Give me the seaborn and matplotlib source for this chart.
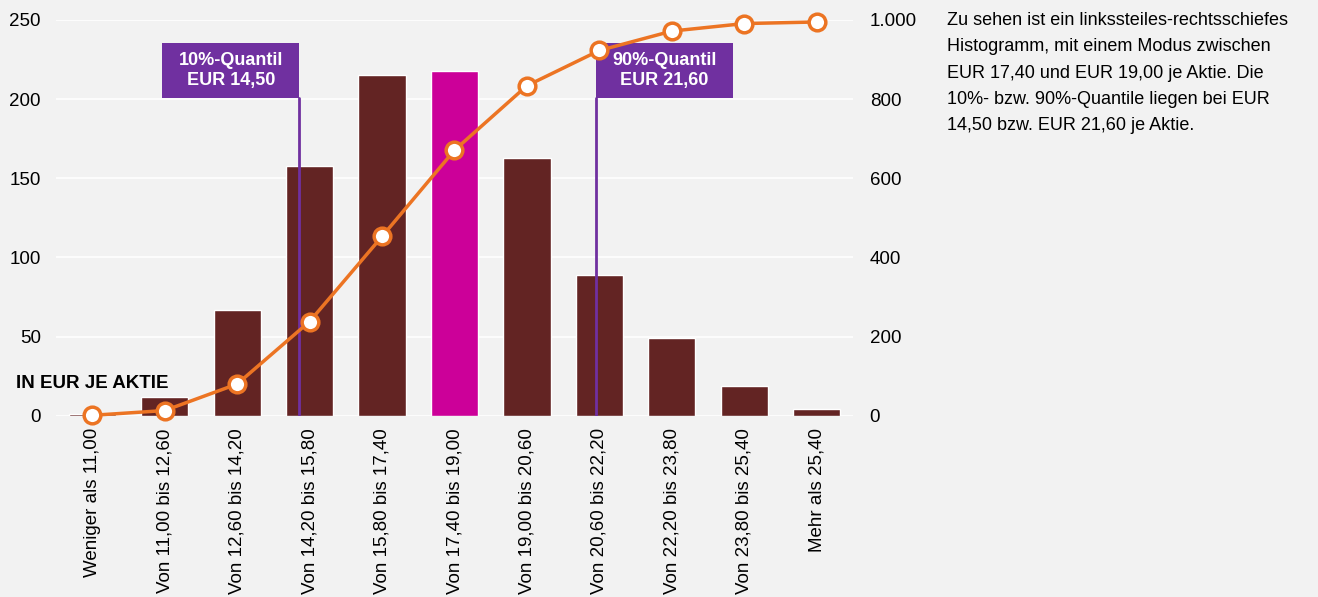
import numpy as np
import pandas as pd
import matplotlib
matplotlib.use('Agg')
import matplotlib.pyplot as plt
from matplotlib.patches import Rectangle
from matplotlib.ticker import FuncFormatter
import seaborn as sns

# Klassen und Haeufigkeiten
categories = ['Weniger als 11,00', 'Von 11,00 bis 12,60', 'Von 12,60 bis 14,20',
              'Von 14,20 bis 15,80', 'Von 15,80 bis 17,40', 'Von 17,40 bis 19,00',
              'Von 19,00 bis 20,60', 'Von 20,60 bis 22,20', 'Von 22,20 bis 23,80',
              'Von 23,80 bis 25,40', 'Mehr als 25,40']
counts = [1, 12, 67, 158, 215, 218, 163, 89, 49, 19, 4]
mode_category = 'Von 17,40 bis 19,00'

# Quantile: Label und Lage auf der Kategorienachse
quantile_labels = ['10%-Quantil\nEUR 14,50', '90%-Quantil\nEUR 21,60']
quantile_pos = [2.855, 6.95]

note = ('Zu sehen ist ein linkssteiles-rechtsschiefes\n'
        'Histogramm, mit einem Modus zwischen\n'
        'EUR 17,40 und EUR 19,00 je Aktie. Die\n'
        '10%- bzw. 90%-Quantile liegen bei EUR\n'
        '14,50 bzw. EUR 21,60 je Aktie.')

bg = '#f2f2f2'
bar_color = '#632423'
mode_color = '#cc0099'
line_color = '#ec7423'
quant_color = '#7030a0'
fs = 13.5

sns.set_theme(style='white')
plt.rcParams['font.family'] = ['Liberation Sans', 'DejaVu Sans']
plt.rcParams['font.size'] = fs
plt.rcParams['text.color'] = 'black'

df = pd.DataFrame({'Klasse': categories, 'Anzahl': counts})
df['Kumuliert'] = df['Anzahl'].cumsum()

fig = plt.figure(figsize=(13.18, 5.97), dpi=100, facecolor=bg)
ax = fig.add_axes([56 / 1318, 1 - 415.7 / 597, (853 - 56) / 1318, (415.7 - 20) / 597])
ax.set_facecolor(bg)

palette = {c: (mode_color if c == mode_category else bar_color) for c in categories}
sns.barplot(data=df, x='Klasse', y='Anzahl', hue='Klasse', palette=palette, legend=False,
            width=0.65, edgecolor='white', linewidth=1, saturation=1, ax=ax)

ax.set_xlim(-0.5, len(categories) - 0.5)
ax.set_ylim(0, 250)
ax.set_yticks([0, 50, 100, 150, 200, 250])
ax.set_axisbelow(True)
ax.grid(axis='y', color='white', linewidth=1.2)
ax.set_xlabel('')
ax.set_ylabel('')
ax.tick_params(axis='x', rotation=90, length=0, pad=9, labelsize=fs, colors='black')
ax.tick_params(axis='y', length=0, pad=11, labelsize=fs, colors='black')
for s in ax.spines.values():
    s.set_visible(False)

# Quantil-Linien und Kaesten
box_w, box_y0, box_y1 = 1.887, 200.5, 235.5
for i, (lab, q) in enumerate(zip(quantile_labels, quantile_pos)):
    ax.plot([q, q], [0, box_y0], color=quant_color, linewidth=2, zorder=3)
    x0 = q - box_w if i == 0 else q
    ax.add_patch(Rectangle((x0, box_y0), box_w, box_y1 - box_y0, facecolor=quant_color,
                           edgecolor='none', zorder=4))
    ax.text(x0 + box_w / 2, (box_y0 + box_y1) / 2, lab, ha='center', va='center',
            color='white', fontweight='bold', fontsize=13, linespacing=1.25, zorder=5)

# kumulierte Haeufigkeit auf der rechten Achse
ax2 = ax.twinx()
sns.lineplot(x=np.arange(len(categories)), y=df['Kumuliert'].values, ax=ax2,
             color=line_color, linewidth=2.5, marker='o', markersize=12,
             markerfacecolor='white', markeredgecolor=line_color, markeredgewidth=2.5,
             zorder=6)
ax2.set_ylim(0, 1000)
ax2.set_yticks([0, 200, 400, 600, 800, 1000])
ax2.yaxis.set_major_formatter(FuncFormatter(lambda v, p: f'{int(v):,}'.replace(',', '.')))
ax2.tick_params(axis='y', length=0, pad=12, labelsize=fs, colors='black')
ax2.set_ylabel('')
for s in ax2.spines.values():
    s.set_visible(False)
for ln in ax2.lines:
    ln.set_clip_on(False)

fig.text(16 / 1318, 1 - 384 / 597, 'IN EUR JE AKTIE', fontweight='bold', fontsize=fs,
         color='black', ha='left', va='center')
fig.text(947 / 1318, 1 - 12 / 597, note, fontsize=13, color='black', ha='left', va='top',
         linespacing=1.72)

fig.savefig('out.png', dpi=100, facecolor=bg)
